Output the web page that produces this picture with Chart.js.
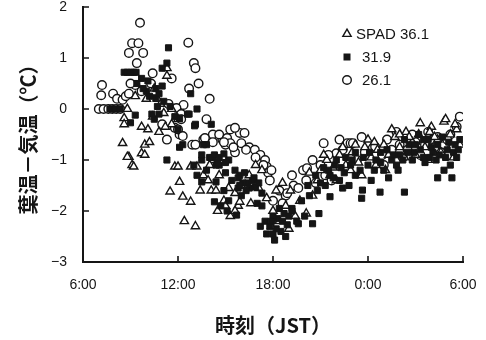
<!DOCTYPE html>
<html><head><meta charset="utf-8">
<script src="https://cdn.jsdelivr.net/npm/chart.js@4.4.0/dist/chart.umd.min.js"></script>
<style>html,body{margin:0;padding:0;background:#fff}#wrap{width:486px;height:340px;position:relative}</style>
</head><body><div id="wrap"><canvas id="c"></canvas></div>
<script>
// Tick labels
const xTickValues = [6, 12, 18, 24, 30];
const xTickLabels = ["6:00", "12:00", "18:00", "0:00", "6:00"];
const yTickValues = [-3, -2, -1, 0, 1, 2];
const seriesNames = ["SPAD 36.1", "31.9", "26.1"];

// Series values: [hour counted from 0:00 of day 1, leaf - air temperature (°C)]
const spad361 = [
 [8.8,0.0],[8.6,-0.18],[8.6,-0.3],[8.5,-0.67],[8.9,-0.94],[9.1,-1.1],[9.7,-0.87],[9.9,-0.7],[10.1,-0.4],[9.7,-0.35],
 [10.5,0.4],[10.7,0.2],[11.3,0.65],[11.3,0.8],[11.1,-0.08],[10.4,-0.15],[10.0,0.2],[9.3,0.25],[10.9,0.1],[11.6,0.0],
 [11.6,-0.3],[12.0,-0.2],[10.2,-0.65],[10.8,-0.45],[11.2,-0.35],[8.8,-0.94],[9.2,-1.13],[9.9,-0.9],[11.8,-1.13],
 [11.5,-1.62],[12.3,-1.72],[12.8,-1.82],[12.4,-2.2],[13.1,-2.3],[12.0,-1.13],[12.8,-1.13],[12.1,-1.43],[13.2,-1.13],
 [13.6,-1.3],[13.4,-1.6],[14.5,-2.0],[15.3,-2.1],[14.2,-1.0],[14.6,-1.3],[15.2,-1.55],[15.6,-1.65],[16.0,-1.5],
 [13.9,-1.4],[16.5,-1.3],[16.9,-1.1],[17.3,-1.2],[14.9,-1.8],[15.8,-1.9],[16.6,-1.85],[17.1,-1.55],
 [14.0,-1.1],[14.1,-1.6],[14.4,-1.6],[15.0,-1.9],[15.6,-2.0],[15.9,-1.82],
 [17.6,-1.75],[18.0,-2.0],[18.4,-2.2],[18.8,-1.9],[19.1,-1.6],[19.4,-2.1],[18.2,-1.6],[19.7,-1.8],[20.1,-2.05],
 [20.5,-1.7],[17.9,-2.3],[19.0,-2.35],[20.8,-1.4],[18.6,-1.45],
 [21.0,-1.2],[21.4,-1.0],[21.8,-1.15],[22.2,-0.9],[22.6,-1.1],[23.0,-0.85],[23.4,-1.05],[23.8,-0.75],[24.2,-0.95],
 [24.6,-0.8],[25.0,-0.7],[25.3,-0.9],[25.7,-0.55],[26.0,-0.75],[26.4,-0.45],[26.8,-0.65],[27.2,-0.5],[27.6,-0.75],
 [28.0,-0.35],[28.4,-0.6],[28.8,-0.25],[29.2,-0.5],[29.6,-0.4],[29.8,-0.7],[25.1,-1.2],[23.6,-1.3],[22.0,-1.4],
 [27.0,-0.9],[28.6,-0.85],
 [21.2,-0.9],[22.4,-0.75],[23.2,-0.7],[24.0,-0.6],[24.4,-0.65],[25.5,-0.4],[26.0,-0.5],[26.6,-0.55],[27.3,-0.28],
 [27.9,-0.45],[28.2,-0.55],[28.9,-0.2],[29.5,-0.3],[20.3,-1.25],[21.6,-1.3],[22.9,-1.2],[24.5,-1.1],[26.3,-0.95],
 [27.8,-1.0],[29.4,-0.95]
];
const spad319 = [
 [7.7,0.0],[8.0,0.0],[8.35,0.0],[8.6,0.72],[8.8,0.72],[9.0,0.72],[9.2,0.72],[9.35,0.72],[9.3,-0.12],[9.0,-0.27],
 [9.4,0.5],[9.7,0.6],[10.0,0.35],[10.2,0.25],[10.6,0.22],[10.1,0.55],[10.6,0.4],[11.0,0.8],[11.3,0.9],[11.4,1.2],
 [10.8,0.3],[11.1,0.15],[11.0,0.45],[10.5,-0.2],[10.8,-0.1],[11.5,0.05],[12.8,0.3],[13.2,0.0],[12.7,-0.1],[13.1,-0.3],
 [13.8,-0.7],[14.1,-0.3],[12.1,-0.75],[11.3,-1.0],[11.8,-0.15],[12.0,-0.4],[9.8,0.4],[10.35,-0.1],[10.7,0.05],
 [12.6,-0.1],[13.05,-0.33],[12.1,-0.18],[12.3,-0.7],[13.6,-0.7],[13.5,-1.0],[14.2,-0.95],[14.6,-1.1],[13.0,-1.1],
 [13.5,-0.9],[14.0,-0.95],[14.4,-1.1],[13.5,-1.43],[14.4,-1.43],[15.9,-1.3],[16.4,-1.45],[16.9,-1.53],[15.4,-1.4],
 [14.3,-1.82],[15.1,-2.0],[14.7,-1.9],[17.0,-1.85],[17.2,-2.3],[15.6,-1.2],[16.2,-1.25],[16.7,-1.4],[15.0,-1.25],
 [15.8,-1.55],[13.8,-1.2],[14.9,-1.6],[16.0,-1.7],[17.3,-1.65],[13.2,-1.3],
 [14.3,-0.9],[14.6,-0.95],[14.9,-0.88],[15.2,-1.0],[14.5,-1.05],[15.0,-1.05],[15.8,-1.35],[16.1,-1.45],[16.5,-1.55],
 [16.8,-1.35],[17.1,-1.45],[16.3,-1.6],[15.9,-1.5],[15.2,-1.8],[15.7,-2.08],
 [17.5,-2.2],[18.1,-2.57],[18.5,-2.4],[18.9,-2.27],[17.8,-2.3],[17.3,-1.9],[18.3,-2.15],[18.7,-2.05],[17.6,-2.45],
 [18.0,-2.1],[19.2,-2.0],[18.4,-1.95],[18.2,-2.35],[18.6,-2.2],[18.0,-2.45],[18.8,-2.5],[19.0,-2.1],[17.9,-2.2],
 [19.5,-2.2],[20.5,-2.25],[20.0,-2.1],[19.2,-1.95],[19.8,-1.8],[20.3,-1.7],[20.8,-1.6],[20.9,-2.05],[19.6,-2.25],
 [21.3,-1.5],[21.6,-1.3],[20.2,-1.5],
 [22.2,-1.4],[21.6,-1.72],[22.4,-1.55],[23.6,-1.75],[23.65,-1.59],[24.76,-1.63],[26.3,-1.63],[21.9,-1.1],[22.5,-1.25],
 [23.0,-1.0],[23.5,-1.2],[24.0,-1.1],[24.5,-1.0],[25.0,-1.2],[25.5,-1.0],[26.0,-0.9],[22.8,-1.5],[24.2,-1.4],
 [25.3,-1.35],[23.2,-1.3],[24.8,-0.85],[25.8,-1.1],
 [20.7,-1.3],[21.0,-1.45],[21.2,-1.15],[21.5,-1.2],[21.8,-1.35],[22.0,-1.0],[22.3,-1.15],[22.6,-0.95],[22.9,-1.1],
 [23.2,-0.85],[23.7,-0.95],[24.1,-0.85],[24.4,-1.2],[24.8,-1.05],[25.2,-0.8],[25.6,-0.9],[25.9,-1.2],[26.2,-1.0],
 [26.6,-0.7],[26.9,-0.85],[27.3,-0.8],[27.5,-0.95],[27.8,-0.6],[28.1,-0.85],[28.4,-0.7],[28.9,-0.95],[29.1,-0.65],
 [29.4,-0.85],[29.7,-0.8],
 [26.5,-0.85],[27.0,-0.7],[27.5,-0.6],[28.0,-0.75],[28.5,-0.9],[29.0,-0.8],[29.5,-0.7],[29.8,-0.6],[26.8,-1.0],
 [27.6,-1.05],[28.3,-1.0],[28.8,-1.2],[29.2,-1.1],[28.4,-1.35],[29.3,-1.35],[27.2,-0.5],[26.3,-0.6],[28.7,-0.55],
 [29.6,-0.95],[27.9,-0.95]
];
const spad261 = [
 [7.0,0.0],[7.3,0.0],[7.6,0.0],[7.85,0.0],[8.1,0.0],[8.35,0.0],
 [7.2,0.47],[7.15,0.27],[7.9,0.3],[8.15,0.2],[8.5,0.18],[8.7,0.25],[8.9,0.3],
 [9.6,1.69],[9.1,1.29],[9.5,1.29],[8.9,1.1],[9.8,1.1],[9.4,0.9],[9.3,0.47],[10.4,0.7],[10.3,0.5],[9.0,0.5],[9.7,0.35],
 [11.6,0.6],[12.65,1.3],[13.0,0.9],[13.1,0.8],[13.3,0.5],[12.7,0.4],[14.0,0.2],[12.35,0.08],[11.9,0.02],[11.4,0.1],
 [11.8,-0.37],[12.1,-0.5],[11.3,-0.6],[12.9,-0.7],[13.6,-0.6],[13.8,-0.2],[14.2,-0.5],[14.8,-0.6],[15.3,-0.4],
 [15.9,-0.47],[15.0,-0.7],[15.6,-0.85],[12.2,-0.1],[11.0,-0.3],
 [15.6,-0.37],[16.2,-0.47],[12.0,-0.4],[12.3,-0.53],[14.6,-0.5],[15.1,-0.57],[15.3,-0.67],[12.2,-0.2],[13.7,-0.57],
 [16.0,-0.67],[16.5,-0.75],[16.85,-0.8],[17.2,-0.9],[17.5,-1.0],[17.6,-1.13],[17.7,-1.25],[13.1,-0.7],
 [14.2,-0.65],[14.9,-0.65],[15.5,-0.75],[16.3,-0.8],[16.9,-0.95],[17.4,-1.1],
 [17.9,-1.2],[17.8,-1.4],[18.4,-1.6],[18.8,-1.7],[18.0,-1.8],[18.6,-1.85],[19.2,-1.3],[19.9,-1.2],[20.1,-1.4],
 [20.7,-1.45],[19.3,-1.5],[18.9,-1.65],[21.3,-1.3],[22.0,-0.87],[22.7,-0.67],[22.4,-0.8],[21.7,-1.4],[21.0,-1.1],
 [20.5,-1.0],[19.6,-1.55],[20.15,-1.16],
 [22.9,-0.67],[24.3,-0.77],[23.8,-0.85],[24.9,-0.9],[25.5,-0.8],[26.0,-0.7],[26.5,-0.8],[27.0,-0.65],[27.6,-0.7],
 [28.0,-0.6],[28.4,-0.55],[28.8,-0.7],[29.2,-0.5],[29.6,-0.35],[29.8,-0.15],[23.3,-1.0],[25.0,-1.1],[26.2,-0.95],
 [27.3,-0.9],[28.6,-0.85],[29.4,-0.75],
 [21.2,-0.67],[21.5,-0.9],[22.2,-0.6],[23.05,-0.67],[23.6,-0.55],[24.45,-0.74],[25.2,-0.6],[25.8,-0.45],[26.8,-0.5],
 [27.8,-0.45],[28.2,-0.75],[29.0,-0.6]
];

const toPts = arr => arr.map(p => ({x: p[0], y: p[1]}));
const INK = '#151515';

const axesPlugin = {
  id: 'axesPlugin',
  beforeDatasetsDraw(chart) {
    const {ctx, chartArea: a, scales: {x, y}} = chart;
    ctx.save();
    ctx.strokeStyle = INK;
    ctx.lineWidth = 2;
    ctx.lineCap = 'square';
    ctx.beginPath();
    ctx.moveTo(a.left, a.top);
    ctx.lineTo(a.left, a.bottom);
    ctx.lineTo(a.right, a.bottom);
    ctx.stroke();
    ctx.lineWidth = 1.6;
    ctx.lineCap = 'butt';
    ctx.beginPath();
    yTickValues.forEach(v => {
      const py = y.getPixelForValue(v);
      ctx.moveTo(a.left, py); ctx.lineTo(a.left + 6, py);
    });
    xTickValues.forEach(v => {
      const px = x.getPixelForValue(v);
      ctx.moveTo(px, a.bottom); ctx.lineTo(px, a.bottom - 6);
    });
    ctx.stroke();
    ctx.restore();
  }
};

function marker(ctx, style, cx, cy) {
  ctx.beginPath();
  if (style === 'triangle') {
    const r = 4.8;
    ctx.moveTo(cx, cy - r);
    ctx.lineTo(cx + r * 0.866, cy + r / 2);
    ctx.lineTo(cx - r * 0.866, cy + r / 2);
    ctx.closePath();
    ctx.fillStyle = '#fff'; ctx.fill();
    ctx.lineWidth = 1.4; ctx.strokeStyle = INK; ctx.stroke();
  } else if (style === 'rect') {
    ctx.fillStyle = INK;
    ctx.fillRect(cx - 3.5, cy - 3.5, 7, 7);
  } else {
    ctx.arc(cx, cy, 4.3, 0, Math.PI * 2);
    ctx.fillStyle = '#fff'; ctx.fill();
    ctx.lineWidth = 1.4; ctx.strokeStyle = INK; ctx.stroke();
  }
}

const legendPlugin = {
  id: 'legendPlugin',
  afterDraw(chart) {
    const ctx = chart.ctx;
    ctx.save();
    const styles = ['triangle', 'rect', 'circle'];
    const rows = [34, 57, 80];
    const textX = [356, 362, 362];
    ctx.font = '15px "Liberation Sans", Arial, sans-serif';
    ctx.textBaseline = 'middle';
    styles.forEach((s, i) => {
      marker(ctx, s, 347, rows[i]);
      ctx.fillStyle = INK;
      ctx.fillText(seriesNames[i], textX[i], rows[i] + 1);
    });
    ctx.restore();
  }
};

const tickFont = {family: '"Liberation Sans", Arial, sans-serif', size: 14, lineHeight: 1};
const titleFont = {family: '"Noto Sans CJK JP", sans-serif', size: 20, weight: 'bold'};

new Chart(document.getElementById('c'), {
  type: 'scatter',
  data: {
    datasets: [
      {label: seriesNames[2], data: toPts(spad261), pointStyle: 'circle', pointRadius: 4.3,
       backgroundColor: '#fff', borderColor: INK, borderWidth: 1.4, order: 3},
      {label: seriesNames[0], data: toPts(spad361), pointStyle: 'triangle', pointRadius: 4.8,
       backgroundColor: '#fff', borderColor: INK, borderWidth: 1.4, order: 2},
      {label: seriesNames[1], data: toPts(spad319), pointStyle: 'rect', pointRadius: 4.3,
       backgroundColor: INK, borderColor: INK, borderWidth: 1, order: 1}
    ]
  },
  options: {
    responsive: true,
    maintainAspectRatio: false,
    animation: false,
    layout: {padding: {left: 0, top: 7, right: 23, bottom: 0}},
    plugins: {legend: {display: false}, tooltip: {enabled: false}},
    scales: {
      x: {
        type: 'linear', min: 6, max: 30,
        afterFit: s => { s.height = 78; },
        afterBuildTicks: s => { s.ticks = xTickValues.map(v => ({value: v})); },
        grid: {display: false, drawTicks: true, tickLength: 16},
        border: {display: false},
        ticks: {color: INK, font: tickFont, padding: 0, maxRotation: 0, autoSkip: false,
          callback: (v) => xTickLabels[xTickValues.indexOf(v)] ?? ''},
        title: {display: true, text: '時刻（JST）', color: INK, font: titleFont, padding: {top: 0, bottom: 3}}
      },
      y: {
        type: 'linear', min: -3, max: 2,
        afterFit: s => { s.width = 83; },
        afterBuildTicks: s => { s.ticks = yTickValues.map(v => ({value: v})); },
        grid: {display: false, drawTicks: true, tickLength: 16},
        border: {display: false},
        ticks: {color: INK, font: tickFont, padding: 0,
          callback: (v) => (v < 0 ? '\u2212' + Math.abs(v) : String(v))},
        title: {display: true, text: '葉温－気温（℃）', color: INK, font: titleFont, padding: {top: 16, bottom: 0}}
      }
    }
  },
  plugins: [axesPlugin, legendPlugin]
});
</script>
</body></html>
